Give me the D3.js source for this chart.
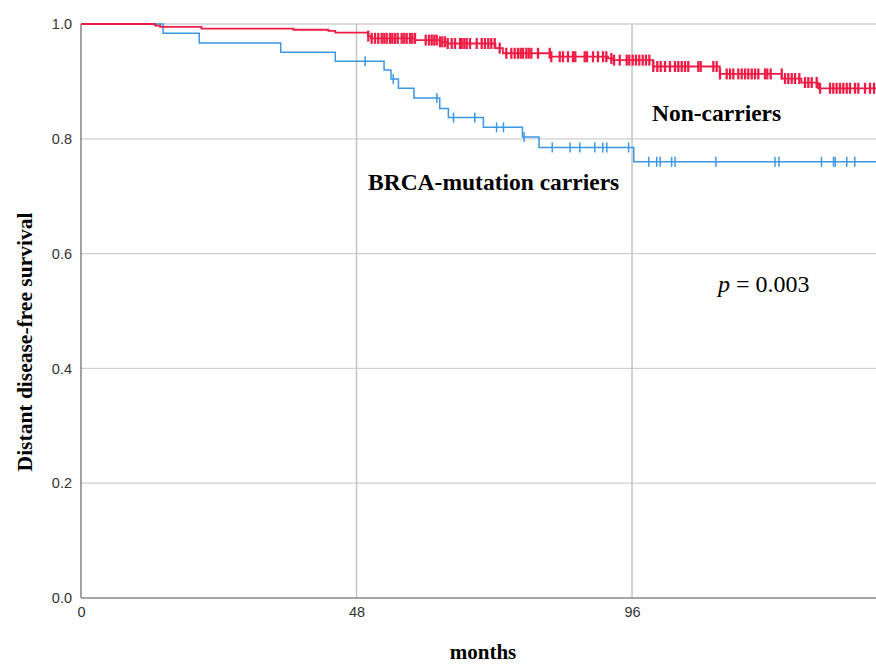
<!DOCTYPE html>
<html>
<head>
<meta charset="utf-8">
<script src="https://cdn.jsdelivr.net/npm/d3@7"></script>
<style>
body { margin: 0; background: #fff; }
svg { display: block; }
</style>
</head>
<body>
<svg></svg>
<script>
//kaplan-meier chart, BRCA carriers vs non-carriers

var red = "#ee1c45"
var blue = "#3a97e4"

var svgWidth = 876, svgHeight = 664;
var svg = d3.select("svg")
    .attr("width", svgWidth)
    .attr("height", svgHeight);

//x ticks and y ticks
var xTicks = [0, 48, 96];
var yTicks = [0.0, 0.2, 0.4, 0.6, 0.8, 1.0];
var maxMonth = 138.5;

//steps: [month, survival after the drop]
var redSteps = [[0, 1.0], [12.9, 0.997], [13.8, 0.995], [21.0, 0.992], [37.0, 0.990],
    [43.1, 0.988], [44.3, 0.985], [50.0, 0.979], [50.5, 0.975], [58.2, 0.972],
    [62.5, 0.969], [63.8, 0.966], [72.2, 0.958], [73.5, 0.949], [81.7, 0.943],
    [91.8, 0.940], [92.7, 0.937], [99.7, 0.926], [111.3, 0.913], [122.1, 0.905],
    [125.5, 0.898], [128.4, 0.888]];
var blueSteps = [[0, 1.0], [14.3, 0.984], [20.6, 0.967], [34.8, 0.951], [44.3, 0.935],
    [52.8, 0.920], [54.0, 0.904], [55.3, 0.888], [58.0, 0.871], [62.5, 0.853],
    [64.0, 0.837], [70.1, 0.820], [76.9, 0.803], [79.8, 0.785], [96.3, 0.760]];

//censored times (months)
var redCensor = [50.05, 50.64, 51.22, 51.79, 52.39, 52.84, 53.26, 53.83, 54.23, 54.70,
    55.17, 55.87, 56.32, 56.74, 57.32, 57.72, 58.19, 60.05, 60.63, 61.10, 61.55, 61.97,
    62.54, 62.94, 63.41, 63.89, 64.58, 65.16, 66.03, 66.32, 66.78, 67.20, 67.77, 68.94,
    69.81, 70.38, 70.96, 71.48, 72.07, 72.94, 74.09, 74.97, 75.56, 76.13, 76.60, 77.00,
    77.58, 78.00, 78.45, 79.62, 81.66, 81.93, 83.40, 83.97, 84.84, 85.71, 86.11, 87.75,
    88.15, 89.20, 90.07, 90.94, 91.52, 92.39, 92.86, 93.85, 95.07, 95.52, 96.11, 96.69,
    97.26, 97.86, 98.43, 99.01, 99.70, 100.40, 100.99, 101.74, 102.61, 103.48, 104.06,
    104.65, 105.23, 105.80, 107.54, 107.96, 110.16, 110.75, 111.32, 112.49, 113.07,
    113.64, 114.51, 115.10, 115.68, 116.25, 116.85, 117.42, 118.00, 119.16, 119.56,
    120.16, 122.07, 122.65, 123.22, 123.82, 124.39, 125.14, 126.13, 126.71, 127.30,
    128.17, 128.75, 130.49, 131.06, 131.64, 132.23, 132.80, 133.40, 133.97, 134.84,
    135.42, 136.59, 137.46, 138.15];
var blueCensor = [49.5, 54.4, 62.0, 64.9, 68.6, 72.4, 73.6, 77.2, 82.1, 85.2, 86.9,
    89.5, 90.9, 91.6, 95.4, 98.9, 100.3, 100.9, 102.9, 103.5, 110.6, 120.9, 121.6,
    129.0, 131.1, 131.4, 133.4, 134.8];

var plotLeft = 81, plotRight = 876, plotTop = 24, plotBottom = 598;

var xScale = d3.scaleLinear().domain([0, maxMonth]).range([plotLeft, plotRight]);
var yScale = d3.scaleLinear().domain([0, 1]).range([plotBottom, plotTop]);

//grid
var grid = svg.append("g");
grid.selectAll("line.h").data(yTicks.slice(1)).enter().append("line")
    .attr("x1", plotLeft).attr("x2", plotRight)
    .attr("y1", d => yScale(d)).attr("y2", d => yScale(d))
    .attr("stroke", "#cfcfcf").attr("stroke-width", 1.3);
grid.selectAll("line.v").data(xTicks.slice(1)).enter().append("line")
    .attr("x1", d => xScale(d)).attr("x2", d => xScale(d))
    .attr("y1", plotTop).attr("y2", plotBottom)
    .attr("stroke", "#c4c4c4").attr("stroke-width", 1.5);

//axes
var y_axis = d3.axisLeft(yScale).tickValues(yTicks).tickFormat(d3.format(".1f")).tickSize(0).tickPadding(9);
var x_axis = d3.axisBottom(xScale).tickValues(xTicks).tickSize(0).tickPadding(9);
var gy = svg.append("g").attr("transform", "translate(" + plotLeft + ",0)").call(y_axis);
var gx = svg.append("g").attr("transform", "translate(0," + plotBottom + ")").call(x_axis);
[gx, gy].forEach(function(g) {
    g.select(".domain").attr("stroke", "#8a8a8a").attr("stroke-width", 1.6);
    g.selectAll("text").attr("font-family", "Liberation Sans, Arial, sans-serif")
        .attr("font-size", 14.5).attr("fill", "#333");
});
gy.selectAll("text").attr("dy", "0.32em");
gx.select(".domain").attr("d", "M" + plotLeft + ",0H" + plotRight);
gy.select(".domain").attr("d", "M0," + plotTop + "V" + plotBottom);

//survival curves
function survAt(steps, t) {
    var s = steps[0][1];
    for (var i = 0; i < steps.length; i++) {
        if (steps[i][0] <= t) s = steps[i][1];
    }
    return s;
}

var line = d3.line()
    .x(d => xScale(d[0]))
    .y(d => yScale(d[1]))
    .curve(d3.curveStepAfter);

function drawCurve(steps, censor, color, width, markWidth, tick) {
    var pts = steps.slice();
    pts.push([maxMonth, steps[steps.length - 1][1]]);
    svg.append("path")
        .attr("d", line(pts))
        .attr("fill", "none")
        .attr("stroke", color)
        .attr("stroke-width", width);
    svg.append("g").selectAll("line").data(censor).enter().append("line")
        .attr("x1", d => xScale(d)).attr("x2", d => xScale(d))
        .attr("y1", d => yScale(survAt(steps, d)) - tick)
        .attr("y2", d => yScale(survAt(steps, d)) + tick)
        .attr("stroke", color)
        .attr("stroke-width", markWidth);
}

drawCurve(blueSteps, blueCensor, blue, 1.5, 1.5, 5);
drawCurve(redSteps, redCensor, red, 1.8, 2.3, 5.5);

//labels
var serif = "Liberation Serif, Times New Roman, serif";
svg.append("text").attr("x", 652).attr("y", 121)
    .attr("font-family", serif).attr("font-size", 23.5).attr("font-weight", "bold")
    .text("Non-carriers");
svg.append("text").attr("x", 368).attr("y", 190)
    .attr("font-family", serif).attr("font-size", 23.5).attr("font-weight", "bold")
    .text("BRCA-mutation carriers");
var pt = svg.append("text").attr("x", 718).attr("y", 292)
    .attr("font-family", serif).attr("font-size", 24);
pt.append("tspan").attr("font-style", "italic").text("p");
pt.append("tspan").text(" = 0.003");

svg.append("text")
    .attr("transform", "translate(32,342) rotate(-90)")
    .attr("text-anchor", "middle")
    .attr("font-family", serif).attr("font-size", 21.5).attr("font-weight", "bold")
    .text("Distant disease-free survival");
svg.append("text").attr("x", 483).attr("y", 659)
    .attr("text-anchor", "middle")
    .attr("font-family", serif).attr("font-size", 21).attr("font-weight", "bold")
    .text("months");
</script>
</body>
</html>
